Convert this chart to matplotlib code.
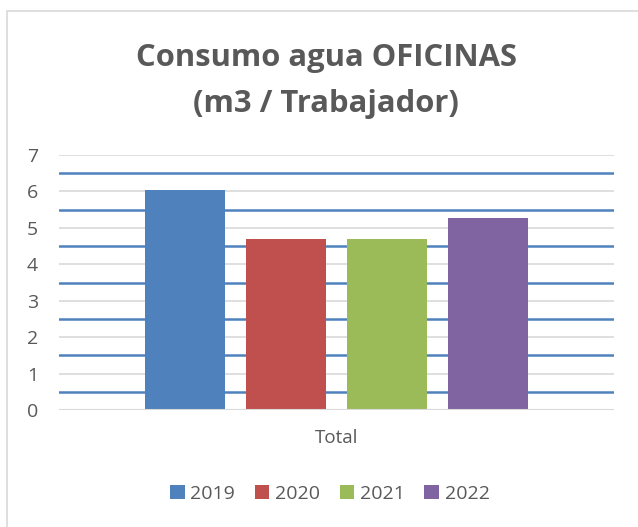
import matplotlib.pyplot as plt
from matplotlib.patches import Patch, Rectangle

# data
years = ["2019", "2020", "2021", "2022"]
values = [6.04, 4.70, 4.70, 5.27]
category = "Total"
colors = ["#4f81bd", "#c0504d", "#9bbb59", "#8064a2"]

W, H = 638, 527
fig = plt.figure(figsize=(W / 100, H / 100), dpi=100)
plt.rcParams['font.family'] = ['Open Sans', 'DejaVu Sans']
txt = "#595959"

# outer chart border (only top/left visible in the crop)
fig.patches.append(Rectangle((7 / W, -0.1), 1.2, 1.1 - 11 / H, transform=fig.transFigure,
                             fill=False, edgecolor="#d9d9d9", linewidth=1.2))

left, right, bottom, top = 59, 614, 410, 155
ax = fig.add_axes([left / W, 1 - bottom / H, (right - left) / W, (bottom - top) / H])

span = right - left
bw = 80 / span
step = 101 / span
for i, (y, v) in enumerate(zip(years, values)):
    ax.bar((i - 1.5) * step, v, width=bw, color=colors[i], zorder=3)

ax.set_xlim(-0.5, 0.5)
ax.set_ylim(0, 7)
ax.set_yticks(range(8))
for k in range(1, 8):
    ax.axhline(k, color="#d9d9d9", linewidth=1.2, zorder=1)
for k in range(7):
    ax.axhline(k + 0.5, color="#4f81bd", linewidth=1.8, zorder=1)
ax.axhline(0, color="#d9d9d9", linewidth=1.5, zorder=4)
for s in ax.spines.values():
    s.set_visible(False)
ax.tick_params(axis="y", length=0, pad=15, labelsize=14, labelcolor=txt)
ax.set_xticks([0])
ax.set_xticklabels([category])
ax.tick_params(axis="x", length=0, pad=14, labelsize=13.5, labelcolor=txt)

fig.text(0.511, 1 - 58 / H, "Consumo agua OFICINAS", ha="center", va="center",
         fontsize=22.3, fontweight="bold", color=txt)
fig.text(0.511, 1 - 104 / H, "(m3 / Trabajador)", ha="center", va="center",
         fontsize=22.3, fontweight="bold", color=txt)

handles = [Patch(facecolor=c, edgecolor="none", label=y) for c, y in zip(colors, years)]
fig.legend(handles=handles, loc="center", bbox_to_anchor=(0.517, 1 - 494 / H), ncol=4,
           frameon=False, fontsize=14, labelcolor=txt, handlelength=0.75,
           handleheight=0.75, handletextpad=0.3, columnspacing=1.0)

fig.savefig("out.png", dpi=100, facecolor="white")
